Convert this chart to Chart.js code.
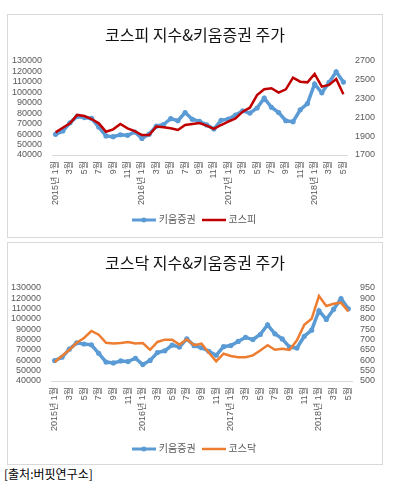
<!DOCTYPE html>
<html>
<head>
<meta charset="utf-8">
<script src="https://cdn.jsdelivr.net/npm/chart.js@4.4.0/dist/chart.umd.min.js"></script>
<style>
body { margin:0; background:#fff; width:398px; height:485px; position:relative; overflow:hidden; font-family:'Noto Sans CJK KR', sans-serif; }
.box { position:absolute; left:7px; width:374px; border:1px solid #D9D9D9; }
#box1 { top:14px; height:222px; }
#box2 { top:242px; height:221px; }
.box canvas { display:block; }
#src { position:absolute; left:4px; top:466px; font-size:12px; line-height:16px; color:#000; }
</style>
</head>
<body>
<div class="box" id="box1"><canvas id="chart1" width="374" height="222"></canvas></div>
<div class="box" id="box2"><canvas id="chart2" width="374" height="221"></canvas></div>
<div id="src">[출처:버핏연구소]</div>
<script>
// months Jan 2015 - May 2018
const months = [
  '2015년 1월','2월','3월','4월','5월','6월','7월','8월','9월','10월','11월','12월',
  '2016년 1월','2월','3월','4월','5월','6월','7월','8월','9월','10월','11월','12월',
  '2017년 1월','2월','3월','4월','5월','6월','7월','8월','9월','10월','11월','12월',
  '2018년 1월','2월','3월','4월','5월'
];

// 키움증권 share price (left axis)
const kiwoom = [59800, 63000, 70800, 76900, 75800, 75000, 66800, 58300, 57500, 59400, 58800, 62000,
  55900, 59900, 67600, 69200, 74800, 72800, 80700, 74200, 72200, 68800, 64900, 73200,
  74300, 78300, 82300, 80100, 85000, 94400, 85700, 80700, 72800, 71900, 83300, 89200,
  108000, 99600, 109500, 119700, 109800];

// 코스피 index (right axis, chart 1)
const kospi = [1941, 1990, 2037, 2126, 2115, 2083, 2037, 1948, 1973, 2030, 1984, 1955,
  1913, 1913, 2002, 1995, 1985, 1966, 2019, 2030, 2040, 2012, 1977, 2019,
  2054, 2090, 2161, 2203, 2338, 2399, 2410, 2363, 2399, 2523, 2480, 2473,
  2562, 2427, 2445, 2509, 2346];

// 코스닥 index (right axis, chart 2)
const kosdaq = [592, 621, 651, 685, 708, 742, 724, 685, 681, 684, 689, 681,
  684, 651, 689, 700, 700, 676, 702, 673, 681, 637, 595, 632,
  621, 615, 615, 624, 648, 673, 651, 656, 651, 697, 772, 801,
  911, 863, 874, 879, 837];

// axis ranges: [min, max, step]
const priceAxis = [40000, 130000, 10000];
const kospiAxis = [1700, 2700, 200];
const kosdaqAxis = [500, 950, 50];

const font = "'Liberation Sans', 'Noto Sans CJK KR', sans-serif";
const gray = '#595959';
const blue = '#5B9BD5';

function lineIcon(color, lw, dot) {
  const c = document.createElement('canvas');
  c.width = 24;
  c.height = 8;
  const g = c.getContext('2d');
  g.strokeStyle = color;
  g.lineWidth = lw;
  g.beginPath();
  g.moveTo(0, 4);
  g.lineTo(24, 4);
  g.stroke();
  if (dot) {
    g.fillStyle = color;
    g.beginPath();
    g.arc(12, 4, 2.5, 0, Math.PI * 2);
    g.fill();
  }
  return c;
}

// lay = [title bottom pad, layout bottom pad, x axis height, left axis width, right axis width]
function makeChart(canvasId, title, indexName, indexData, indexColor, rightRange, lay) {
  const icons = [lineIcon(blue, 3, true), lineIcon(indexColor, 2.5, false)];
  const tickFont = { family: font, size: 9 };
  return new Chart(document.getElementById(canvasId), {
    type: 'line',
    data: {
      labels: months,
      datasets: [
        { label: '키움증권', data: kiwoom, yAxisID: 'y', borderColor: blue, backgroundColor: blue,
          borderWidth: 3.5, pointRadius: 2.6, pointBorderWidth: 0, order: 1, tension: 0 },
        { label: indexName, data: indexData, yAxisID: 'y1', borderColor: indexColor, backgroundColor: indexColor,
          borderWidth: 2.5, pointRadius: 0, order: 0, tension: 0 }
      ]
    },
    options: {
      responsive: false,
      animation: false,
      events: [],
      layout: { padding: { top: 0, bottom: lay[1], left: 0, right: 0 } },
      plugins: {
        title: {
          display: true,
          text: title,
          color: '#111',
          font: { family: "'Noto Sans CJK KR', sans-serif", size: 16, weight: 'normal' },
          padding: { top: 10, bottom: lay[0] }
        },
        legend: {
          position: 'bottom',
          labels: {
            usePointStyle: true,
            pointStyleWidth: 20,
            color: gray,
            padding: 8,
            font: { family: font, size: 10 },
            generateLabels: chart => {
              const items = Chart.defaults.plugins.legend.labels.generateLabels(chart);
              items.forEach(it => { it.pointStyle = icons[it.datasetIndex]; });
              return items;
            },
            sort: (a, b) => a.datasetIndex - b.datasetIndex
          }
        },
        tooltip: { enabled: false }
      },
      scales: {
        x: {
          offset: true,
          grid: { display: true, drawOnChartArea: false, drawTicks: false },
          border: { display: true, color: '#D9D9D9', width: 1 },
          ticks: {
            autoSkip: false,
            minRotation: 90,
            maxRotation: 90,
            padding: 6,
            color: gray,
            font: tickFont,
            callback: (v, i) => (i % 2 === 0 ? months[i] : '')
          },
          afterFit: s => { s.height = lay[2]; }
        },
        y: {
          position: 'left',
          min: priceAxis[0],
          max: priceAxis[1],
          grid: { display: false, drawTicks: false },
          border: { display: false },
          ticks: { stepSize: priceAxis[2], autoSkip: false, padding: 10, color: gray, font: tickFont, callback: v => String(v) },
          afterFit: s => { s.width = lay[3]; }
        },
        y1: {
          position: 'right',
          min: rightRange[0],
          max: rightRange[1],
          grid: { display: false, drawTicks: false },
          border: { display: false },
          ticks: { stepSize: rightRange[2], autoSkip: false, padding: 8, color: gray, font: tickFont, callback: v => String(v) },
          afterFit: s => { s.width = lay[4]; }
        }
      }
    }
  });
}

makeChart('chart1', '코스피 지수&키움증권 주가', '코스피', kospi, '#C00000', kospiAxis, [16.8, 2, 52, 44, 35]);
makeChart('chart2', '코스닥 지수&키움증권 주가', '코스닥', kosdaq, '#ED7D31', kosdaqAxis, [15.8, 0, 55, 43, 30]);
</script>
</body>
</html>
